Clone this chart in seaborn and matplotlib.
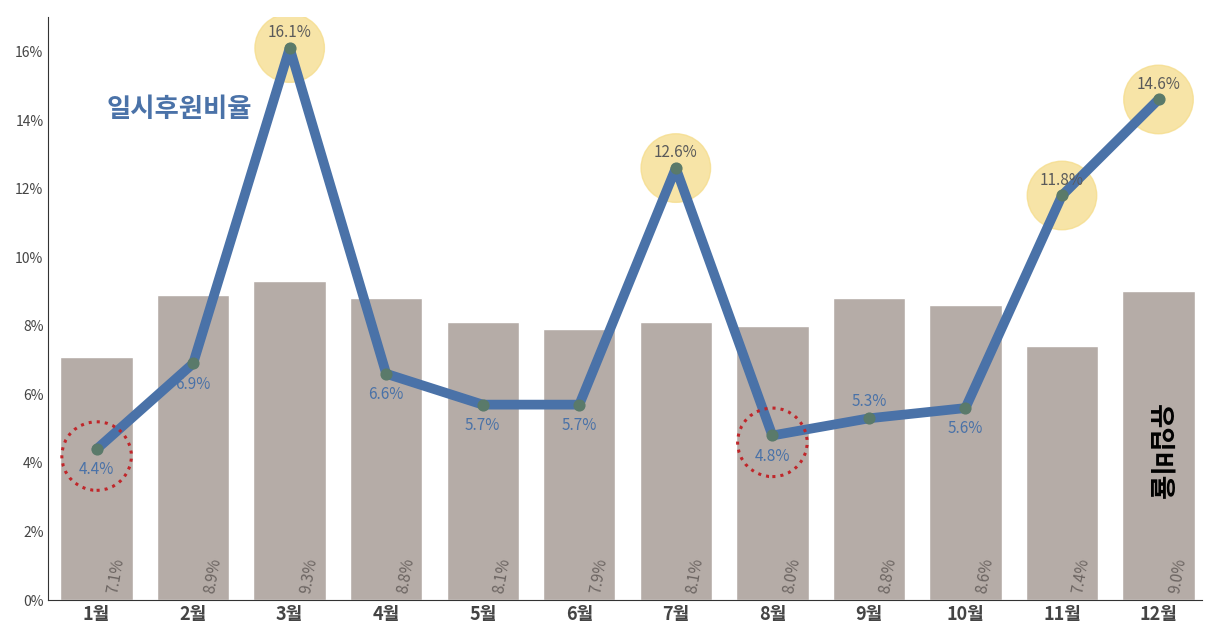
import matplotlib.pyplot as plt
import seaborn as sns
import numpy as np
from matplotlib.patches import Ellipse

months = ['1월', '2월', '3월', '4월', '5월', '6월', '7월', '8월', '9월', '10월', '11월', '12월']
inflow = [7.1, 8.9, 9.3, 8.8, 8.1, 7.9, 8.1, 8.0, 8.8, 8.6, 7.4, 9.0]
temp_ratio = [4.4, 6.9, 16.1, 6.6, 5.7, 5.7, 12.6, 4.8, 5.3, 5.6, 11.8, 14.6]
highlight = [2, 6, 10, 11]
lowlight = [0, 7]

sns.set_style('white')
plt.rcParams['font.family'] = ['Noto Sans CJK KR', 'DejaVu Sans']

fig = plt.figure(figsize=(12.08, 6.37), dpi=100)
ax = fig.add_axes([0.04, 0.058, 0.955, 0.915])
x = np.arange(len(months))

sns.barplot(x=x, y=inflow, color='#b5aca7', saturation=1, width=0.75, ax=ax)
for i, v in enumerate(inflow):
    ax.text(i + 0.2, 0.15, f'{v:.1f}%', rotation=80, style='italic', fontsize=11,
            color='#6b6461', ha='center', va='bottom')

ax.plot(x, temp_ratio, color='#4a72a8', lw=7, zorder=3, solid_capstyle='round')
ax.scatter(x, temp_ratio, color='#5a7a6a', s=60, zorder=4)

for i in highlight:
    ax.add_patch(Ellipse((i, temp_ratio[i]), 0.72, 2.0, color='#f5dc8a', alpha=0.75, zorder=2))
    ax.text(i, temp_ratio[i] + 0.45, f'{temp_ratio[i]}%', ha='center', va='center',
            fontsize=11, color='#5a5a5a', zorder=5)
for i in lowlight:
    ax.add_patch(Ellipse((i, temp_ratio[i] - 0.2), 0.72, 2.0, fill=False, ec='#c0262a',
                         ls=':', lw=2.2, zorder=5))
for i, v in enumerate(temp_ratio):
    if i in highlight:
        continue
    dy = 0.5 if i == 8 else -0.6
    ax.text(i, v + dy, f'{v}%', ha='center', va='center', fontsize=11,
            color='#4a72a8', zorder=5)

ax.text(0.1, 14.1, '일시후원비율', fontsize=19, fontweight='bold', color='#4a72a8')
ax.text(11.0, 4.3, '유입비율', rotation=-90, fontsize=19, fontweight='bold',
        color='black', ha='center', va='center')

ax.set_xlim(-0.5, 11.45)
ax.set_ylim(0, 17)
ax.set_yticks(np.arange(0, 17, 2))
ax.set_yticklabels([f'{t}%' for t in range(0, 17, 2)], fontsize=10, color='#444444')
ax.set_xticks(x)
ax.set_xticklabels(months, fontsize=13, fontweight='bold', color='#444444')
ax.tick_params(axis='both', length=0)
for s in ['top', 'right']:
    ax.spines[s].set_visible(False)
for s in ['left', 'bottom']:
    ax.spines[s].set_color('#333333')

fig.savefig('out.png', dpi=100)
